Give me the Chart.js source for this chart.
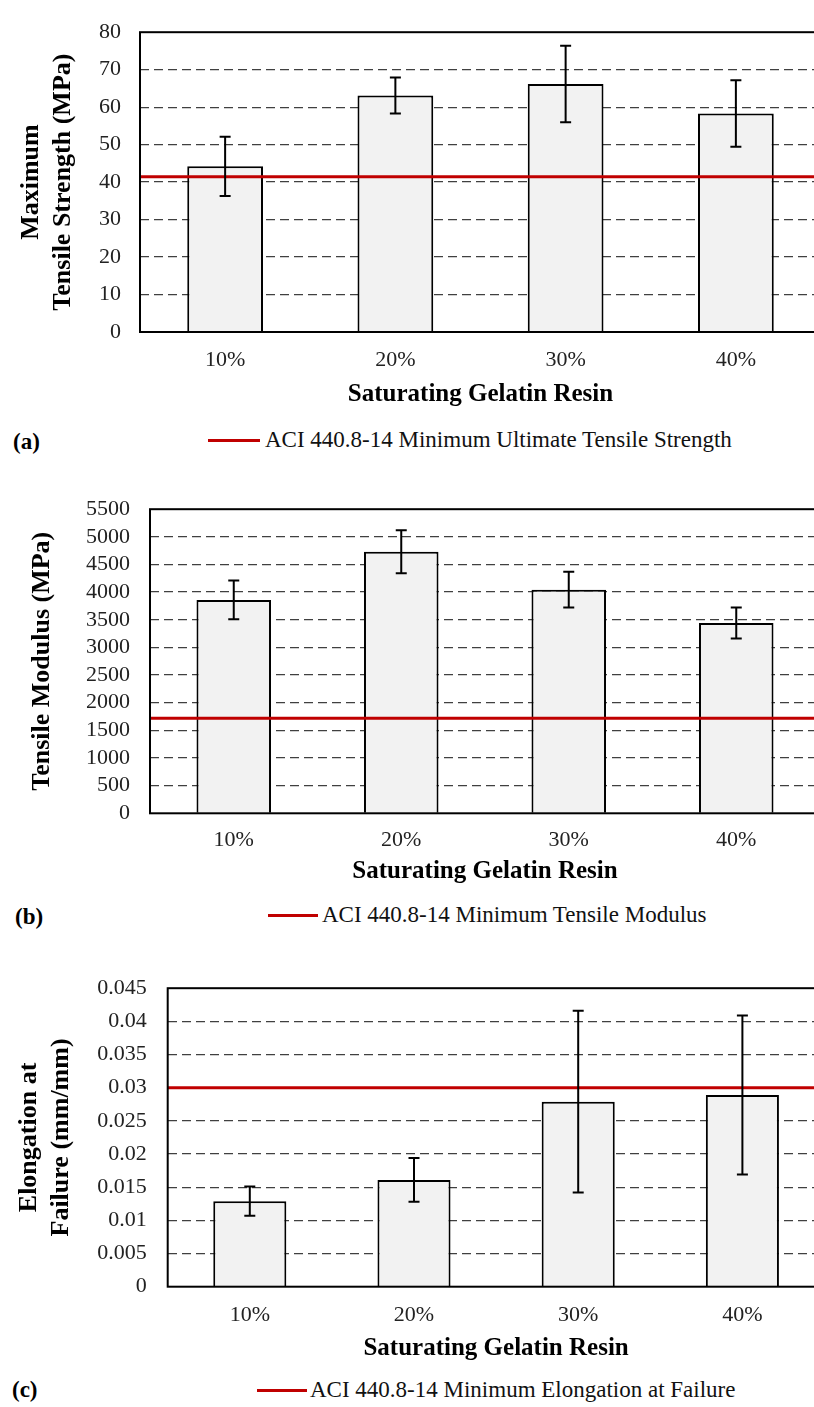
<!DOCTYPE html>
<html>
<head>
<meta charset="utf-8">
<script src="https://cdn.jsdelivr.net/npm/chart.js@4.4.0/dist/chart.umd.min.js"></script>
<style>
  body { margin: 0; width: 814px; height: 1407px; overflow: hidden; background: #fff; position: relative;
         font-family: "Liberation Serif", "Times New Roman", serif; }
  canvas { position: absolute; left: 0; }
  .tag { position: absolute; font-weight: bold; font-size: 23px; height: 26px; line-height: 26px; color: #000; }
  .leg { position: absolute; font-size: 23px; height: 26px; line-height: 26px; color: #111; white-space: nowrap; }
  .sw { position: absolute; height: 3px; background: #c00000; }
</style>
</head>
<body>
<canvas id="chartA" width="840" height="420" style="top:0px"></canvas>
<canvas id="chartB" width="840" height="420" style="top:476px"></canvas>
<canvas id="chartC" width="840" height="420" style="top:954px"></canvas>

<div class="tag" style="left:13px; top:429px">(a)</div>
<div class="sw" style="left:208px; width:52px; top:439px"></div>
<div class="leg" style="left:265px; top:427px">ACI 440.8-14 Minimum Ultimate Tensile Strength</div>

<div class="tag" style="left:15px; top:904px">(b)</div>
<div class="sw" style="left:268px; width:50px; top:914px"></div>
<div class="leg" style="left:322px; top:902px">ACI 440.8-14 Minimum Tensile Modulus</div>

<div class="tag" style="left:12px; top:1377px">(c)</div>
<div class="sw" style="left:257px; width:50px; top:1389px"></div>
<div class="leg" style="left:310px; top:1377px">ACI 440.8-14 Minimum Elongation at Failure</div>

<script>
const categories = ['10%', '20%', '30%', '40%'];

// (a) maximum tensile strength, MPa
const strengthMean = [44.2, 63.1, 66.2, 58.3];
const strengthErr = [7.9, 4.8, 10.2, 8.9];
const strengthMin = 41.4;
const strengthTicks = ['0', '10', '20', '30', '40', '50', '60', '70', '80'];

// (b) tensile modulus, MPa
const modulusMean = [3860, 4730, 4045, 3440];
const modulusErr = [352, 388, 322, 280];
const modulusMin = 1720;
const modulusTicks = ['0', '500', '1000', '1500', '2000', '2500', '3000', '3500', '4000', '4500', '5000', '5500'];

// (c) elongation at failure, mm/mm
const elongMean = [0.0129, 0.0161, 0.0279, 0.0289];
const elongErr = [0.0022, 0.0033, 0.0137, 0.0120];
const elongMin = 0.03;
const elongTicks = ['0', '0.005', '0.01', '0.015', '0.02', '0.025', '0.03', '0.035', '0.04', '0.045'];

const FONT = '"Liberation Serif", "Times New Roman", serif';
const W = 840, H = 420;

const frame = {
    id: 'frame',
    afterDatasetsDraw(chart) {
        const a = chart.chartArea, ctx = chart.ctx;
        ctx.save();
        ctx.strokeStyle = '#000';
        ctx.lineWidth = 2;
        ctx.strokeRect(a.left, a.top, a.right - a.left, a.bottom - a.top);
        ctx.restore();
    }
};

const errorBars = {
    id: 'errorBars',
    afterDatasetsDraw(chart, args, opts) {
        const meta = chart.getDatasetMeta(1);
        const vals = chart.data.datasets[1].data;
        const y = chart.scales.y;
        const ctx = chart.ctx;
        ctx.save();
        ctx.strokeStyle = '#000';
        ctx.lineWidth = 2;
        meta.data.forEach((bar, i) => {
            const y1 = y.getPixelForValue(vals[i] + opts.err[i]);
            const y2 = y.getPixelForValue(vals[i] - opts.err[i]);
            ctx.beginPath();
            ctx.moveTo(bar.x, y1); ctx.lineTo(bar.x, y2);
            ctx.moveTo(bar.x - 5.5, y1); ctx.lineTo(bar.x + 5.5, y1);
            ctx.moveTo(bar.x - 5.5, y2); ctx.lineTo(bar.x + 5.5, y2);
            ctx.stroke();
        });
        ctx.restore();
    }
};

function drawPanel(id, o) {
    new Chart(document.getElementById(id), {
        type: 'bar',
        data: {
            labels: categories,
            datasets: [{
                    type: 'line',
                    label: o.minLabel,
                    xAxisID: 'x2',
                    data: [{x: 0, y: o.min}, {x: 1, y: o.min}],
                    borderColor: '#c00000',
                    borderWidth: 3,
                    pointRadius: 0,
                    order: 0
                }, {
                    type: 'bar',
                    label: 'mean',
                    data: o.mean,
                    backgroundColor: '#f2f2f2',
                    borderColor: '#000',
                    borderWidth: 2,
                    grouped: false,
                    barPercentage: 0.445,
                    categoryPercentage: 1,
                    order: 1
                }]
        },
        options: {
            responsive: false,
            animation: false,
            devicePixelRatio: 1,
            layout: {padding: {top: o.plotTop, left: 0, right: W - o.plotRight, bottom: 0}},
            plugins: {
                legend: {display: false},
                tooltip: {enabled: false},
                errorBars: {err: o.err}
            },
            scales: {
                x: {
                    offset: true,
                    grid: {display: false, drawTicks: false},
                    border: {display: false},
                    ticks: {padding: o.xTickPad, color: '#222', font: {family: FONT, size: 22}},
                    title: {
                        display: true,
                        text: 'Saturating Gelatin Resin',
                        color: '#000',
                        font: {family: FONT, size: 25, weight: 'bold'},
                        padding: {top: 0, bottom: o.xTitlePad}
                    },
                    afterFit: s => { s.height = H - o.plotBottom; }
                },
                x2: {type: 'linear', display: false, offset: false, min: 0, max: 1,
                     grid: {offset: false}},
                y: {
                    min: 0,
                    max: o.max,
                    ticks: {
                        stepSize: o.step,
                        autoSkip: false,
                        padding: o.yTickPad,
                        color: '#222',
                        font: {family: FONT, size: 22},
                        callback: (v, i) => o.ticks[i]
                    },
                    grid: {
                        drawTicks: false,
                        lineWidth: 1.3,
                        color: c => (c.tick && (c.tick.value === 0 || c.tick.value === o.max)) ? 'rgba(0,0,0,0)' : '#404040'
                    },
                    border: {display: false, dash: [9, 5]},
                    title: {
                        display: true,
                        text: o.yTitle,
                        color: '#000',
                        font: {family: FONT, size: 26, weight: 'bold'},
                        padding: {top: o.yTitlePad, bottom: 0}
                    },
                    afterFit: s => { s.width = o.plotLeft; }
                }
            }
        },
        plugins: [frame, errorBars]
    });
}

drawPanel('chartA', {
    mean: strengthMean, err: strengthErr, min: strengthMin, ticks: strengthTicks,
    minLabel: 'ACI 440.8-14 Minimum Ultimate Tensile Strength',
    max: 80, step: 10, yTitle: ['Maximum', 'Tensile Strength (MPa)'],
    plotTop: 13.3, plotBottom: 332, plotLeft: 140, plotRight: 821,
    xTickPad: 15, xTitlePad: 10, yTickPad: 19, yTitlePad: 16
});

drawPanel('chartB', {
    mean: modulusMean, err: modulusErr, min: modulusMin, ticks: modulusTicks,
    minLabel: 'ACI 440.8-14 Minimum Tensile Modulus',
    max: 5500, step: 500, yTitle: 'Tensile Modulus (MPa)',
    plotTop: 13.3, plotBottom: 337.3, plotLeft: 150, plotRight: 820,
    xTickPad: 14, xTitlePad: 9.5, yTickPad: 20, yTitlePad: 27
});

drawPanel('chartC', {
    mean: elongMean, err: elongErr, min: elongMin, ticks: elongTicks,
    minLabel: 'ACI 440.8-14 Minimum Elongation at Failure',
    max: 0.045, step: 0.005, yTitle: ['Elongation at', 'Failure (mm/mm)'],
    plotTop: 13.3, plotBottom: 332.7, plotLeft: 167.7, plotRight: 824.5,
    xTickPad: 15, xTitlePad: 10.5, yTickPad: 21, yTitlePad: 14
});
</script>
</body>
</html>
